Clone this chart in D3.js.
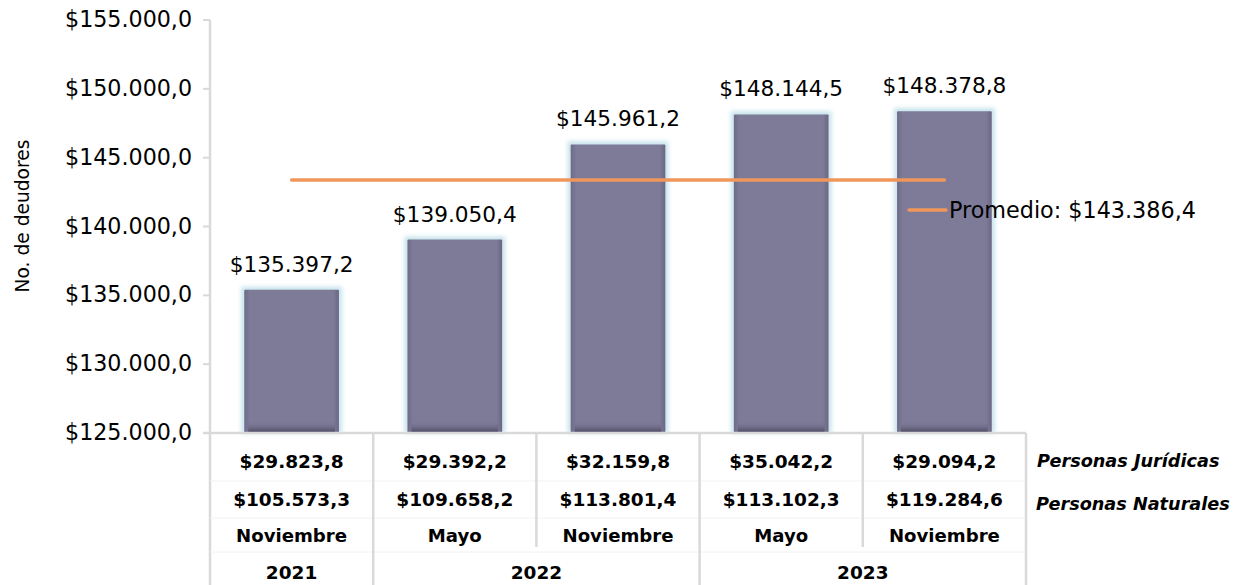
<!DOCTYPE html>
<html>
<head>
<meta charset="utf-8">
<script src="https://cdn.jsdelivr.net/npm/d3@7"></script>
<style>
  body { margin: 0; background: #fff; }
  svg { font-family: "DejaVu Sans", Verdana, sans-serif; }
</style>
</head>
<body>
<svg id="chart" width="1241" height="585"></svg>
<script>
// data
const months = ['Noviembre', 'Mayo', 'Noviembre', 'Mayo', 'Noviembre'];
const years = ['2021', '2022', '2022', '2023', '2023'];
const totals = [135397.2, 139050.4, 145961.2, 148144.5, 148378.8];
const juridicas = [29823.8, 29392.2, 32159.8, 35042.2, 29094.2];
const naturales = [105573.3, 109658.2, 113801.4, 113102.3, 119284.6];
const promedio = 143386.4;
const yTicks = [125000, 130000, 135000, 140000, 145000, 150000, 155000];

const es = d3.formatLocale({ decimal: ',', thousands: '.', grouping: [3], currency: ['$', ''] });
const money = es.format('$,.1f');

const svg = d3.select('#chart');
const plotLeft = 210, plotRight = 1026, plotTop = 20, axisY = 433;

// pick a font size so that a sample string has the width seen in the original (Verdana-like)
function fitSize(sample, width, weight, style) {
  const t = svg.append('text').attr('font-size', 100)
    .attr('font-weight', weight || 'normal').attr('font-style', style || 'normal').text(sample);
  const w = t.node().getComputedTextLength();
  t.remove();
  return 100 * width / w;
}
const fsTick = fitSize('$155.000,0', 127);
const fsLabel = fitSize('$135.397,2', 124);
const fsLegend = fitSize('Promedio: $143.386,4', 247);
const fsTable = fitSize('$105.573,3', 117, 'bold');
const fsMonth = fitSize('Noviembre', 111, 'bold');
const fsRow = fitSize('Personas Naturales', 194, 'bold', 'italic');
const fsTitle = fitSize('No. de deudores', 153);

const x = d3.scaleBand().domain(d3.range(months.length)).range([plotLeft, plotRight]).padding(0);
const y = d3.scaleLinear().domain([125000, 155000]).range([axisY, plotTop]);
const barW = x.bandwidth() * 0.58;
const cx = i => x(i) + x.bandwidth() / 2;

// defs: bar gradient + glow
const defs = svg.append('defs');
const hg = defs.append('linearGradient').attr('id', 'barH');
hg.append('stop').attr('offset', '0%').attr('stop-color', '#6e6a88');
hg.append('stop').attr('offset', '6%').attr('stop-color', '#7e7b99');
hg.append('stop').attr('offset', '94%').attr('stop-color', '#7e7b99');
hg.append('stop').attr('offset', '100%').attr('stop-color', '#6a6684');
const vg = defs.append('linearGradient').attr('id', 'barBottom').attr('x1', 0).attr('x2', 0).attr('y1', 0).attr('y2', 1);
vg.append('stop').attr('offset', '0%').attr('stop-color', '#7e7b99').attr('stop-opacity', 0);
vg.append('stop').attr('offset', '100%').attr('stop-color', '#45425a').attr('stop-opacity', 1);
const glow = defs.append('filter').attr('id', 'glow').attr('x', '-20%').attr('y', '-20%').attr('width', '140%').attr('height', '140%');
glow.append('feGaussianBlur').attr('stdDeviation', 2);

// y axis
const yAxis = svg.append('g');
yAxis.append('line').attr('x1', plotLeft).attr('x2', plotLeft).attr('y1', plotTop).attr('y2', 585)
  .attr('stroke', '#d9d9d9').attr('stroke-width', 2.5);
yAxis.selectAll('.tick').data(yTicks).enter().append('line')
  .attr('x1', plotLeft - 7).attr('x2', plotLeft).attr('y1', d => y(d)).attr('y2', d => y(d))
  .attr('stroke', '#d9d9d9').attr('stroke-width', 2);
yAxis.selectAll('.lbl').data(yTicks).enter().append('text')
  .attr('x', 192).attr('y', d => y(d) + 7)
  .attr('text-anchor', 'end').attr('font-size', fsTick).attr('fill', '#000')
  .text(d => money(d));
svg.append('text').attr('transform', 'translate(29,216) rotate(-90)')
  .attr('text-anchor', 'middle').attr('font-size', fsTitle).text('No. de deudores');

// bars
const bars = svg.append('g').selectAll('g').data(totals).enter().append('g');
bars.append('rect')
  .attr('x', (d, i) => cx(i) - barW / 2 - 3).attr('y', d => y(d) - 3)
  .attr('width', barW + 6).attr('height', d => axisY - y(d) + 3)
  .attr('fill', '#c6e2eb').attr('filter', 'url(#glow)');
bars.append('rect')
  .attr('x', (d, i) => cx(i) - barW / 2).attr('y', d => y(d))
  .attr('width', barW).attr('height', d => axisY - y(d))
  .attr('fill', 'url(#barH)').attr('rx', 1);
bars.append('rect')
  .attr('x', (d, i) => cx(i) - barW / 2 + 4).attr('y', axisY - 12)
  .attr('width', barW - 8).attr('height', 12)
  .attr('fill', 'url(#barBottom)');
bars.append('text')
  .attr('x', (d, i) => cx(i)).attr('y', d => y(d) - 18)
  .attr('text-anchor', 'middle').attr('font-size', fsLabel).text(d => money(d));

// average line
svg.append('line')
  .attr('x1', cx(0)).attr('x2', cx(totals.length - 1))
  .attr('y1', y(promedio)).attr('y2', y(promedio))
  .attr('stroke', '#f0965a').attr('stroke-width', 3.5).attr('stroke-linecap', 'round');
svg.append('line').attr('x1', 909).attr('x2', 946).attr('y1', 210).attr('y2', 210)
  .attr('stroke', '#f0965a').attr('stroke-width', 3.5).attr('stroke-linecap', 'round');
svg.append('text').attr('x', 949).attr('y', 218)
  .attr('font-size', fsLegend).text('Promedio: ' + money(promedio));

// data table below the axis
const grid = '#d9d9d9';
svg.append('line').attr('x1', plotLeft - 7).attr('x2', plotRight).attr('y1', axisY).attr('y2', axisY)
  .attr('stroke', grid).attr('stroke-width', 2.5);
[481, 518, 552].forEach(ry => {
  svg.append('line').attr('x1', plotLeft).attr('x2', plotRight).attr('y1', ry).attr('y2', ry)
    .attr('stroke', '#f2f2f2').attr('stroke-width', 1);
});
d3.range(1, months.length + 1).forEach(i => {
  const xx = i < months.length ? x(i) : plotRight;
  const yearEdge = i === months.length || years[i] !== years[i - 1];
  svg.append('line').attr('x1', xx).attr('x2', xx).attr('y1', axisY).attr('y2', yearEdge ? 585 : 547)
    .attr('stroke', grid).attr('stroke-width', 2.5);
});

const rowText = (arr, base, fmt, fs) => svg.append('g').selectAll('text').data(arr).enter().append('text')
  .attr('x', (d, i) => cx(i)).attr('y', base)
  .attr('text-anchor', 'middle').attr('font-size', fs).attr('font-weight', 'bold')
  .text(fmt);
rowText(juridicas, 468, d => money(d), fsTable);
rowText(naturales, 505.5, d => money(d), fsTable);
rowText(months, 541.5, d => d, fsMonth);

const yearGroups = d3.groups(d3.range(years.length), i => years[i]);
svg.append('g').selectAll('text').data(yearGroups).enter().append('text')
  .attr('x', d => (x(d[1][0]) + x(d[1][d[1].length - 1]) + x.bandwidth()) / 2)
  .attr('y', 579)
  .attr('text-anchor', 'middle').attr('font-size', fsTable).attr('font-weight', 'bold')
  .text(d => d[0]);

svg.append('text').attr('x', 1037).attr('y', 466.5)
  .attr('font-size', fsRow).attr('font-weight', 'bold').attr('font-style', 'italic').text('Personas Jurídicas');
svg.append('text').attr('x', 1036).attr('y', 510)
  .attr('font-size', fsRow).attr('font-weight', 'bold').attr('font-style', 'italic').text('Personas Naturales');
</script>
</body>
</html>
